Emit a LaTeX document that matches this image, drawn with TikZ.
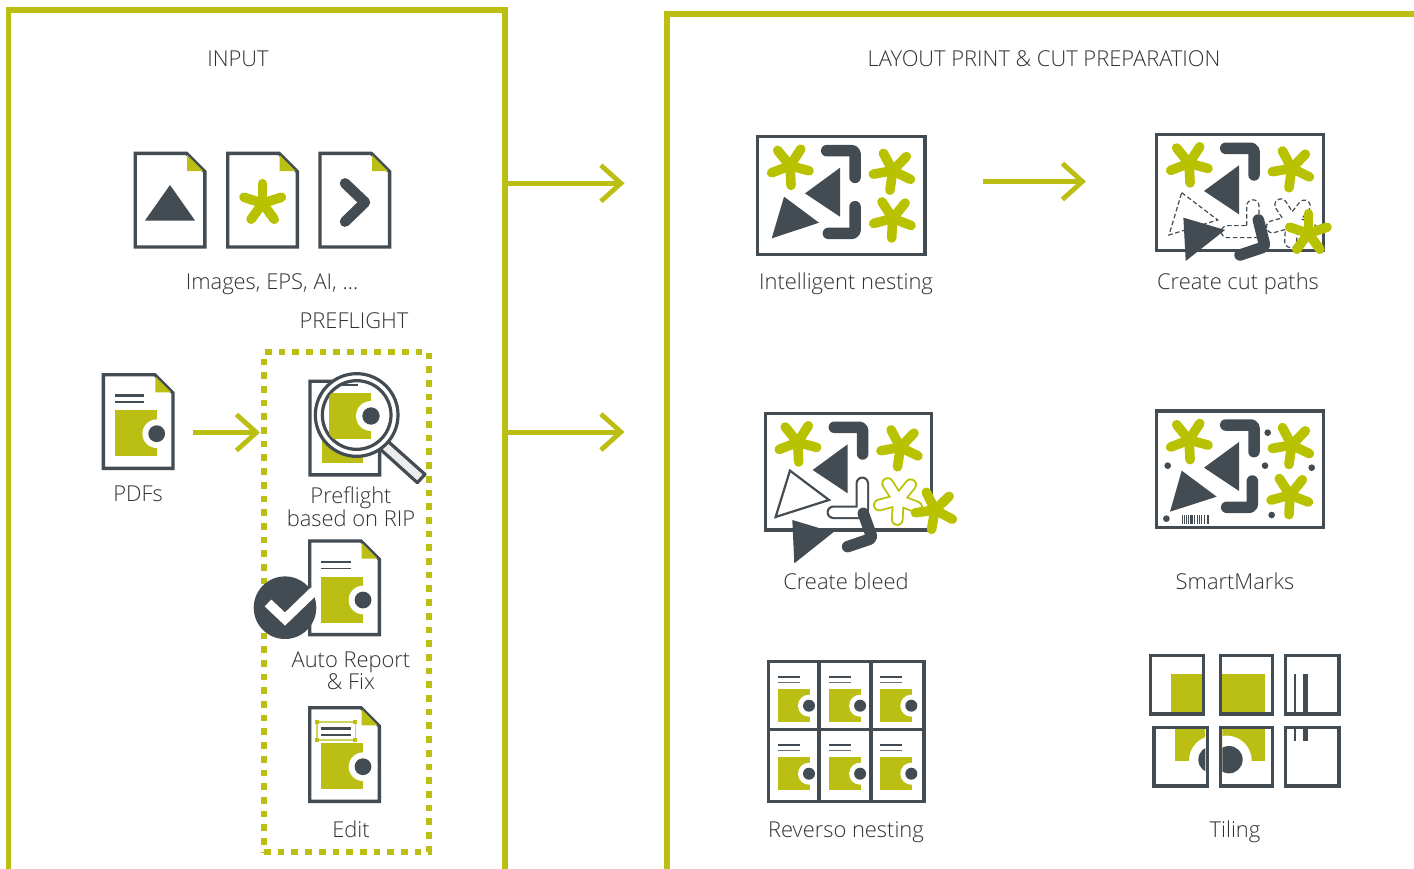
\documentclass[tikz,border=0pt]{standalone}
\usepackage{fontspec}
\setmainfont{Open Sans}[UprightFont={* Light}]
\usetikzlibrary{arrows.meta}
\definecolor{lime}{HTML}{BBBF14}
\definecolor{limeb}{HTML}{B9C200}
\definecolor{dark}{HTML}{434B53}
\definecolor{txt}{HTML}{2F3235}
\tikzset{
  panel/.style={draw=lime,line width=5.4pt,inner sep=0pt,outer sep=0pt,anchor=north west},
  flow/.style={draw=lime,line width=5pt,-{Straight Barb[length=20pt,width=36pt,line width=4.8pt]}},
  lbl/.style={anchor=base,text=txt,inner sep=0pt,align=center,yshift=-1pt,font=\fontsize{21.9}{21.7}\selectfont},
  pageline/.style={draw=dark,line width=3.4pt,fill=white,line join=miter},
  chev/.style={draw=dark,line width=11.5pt,line cap=round,line join=round,rounded corners=3pt},
  zoomcoords/.style={scale=0.33333},
}
% star in zoom coordinates: x,y,rotation
\newcommand{\astar}[3]{\foreach \a in {90,162,234,306,18}{\draw[limeb,line width=9.6pt,line cap=round] (#1,#2) -- ++(\a+#3:59);}}
\newcommand{\docbase}[2]{\begin{scope}[shift={(#1,#2)}]
  \draw[pageline] (1.7,1.7) -- (53,1.7) -- (71.3,20) -- (71.3,95.3) -- (1.7,95.3) -- cycle;
  \fill[lime] (53.7,3.4) -- (69.6,19.3) -- (53.7,19.3) -- cycle;
\end{scope}}
\newcommand{\doccontent}[2]{\begin{scope}[shift={(#1,#2)}]
  \draw[dark,line width=2.7pt] (13.3,22.7) -- (42.7,22.7);
  \draw[dark,line width=1.6pt] (13.3,29) -- (42.7,29);
  \fill[lime] (13.3,37.3) rectangle (55,83.3);
  \fill[white] (55,60.7) circle (14.3);
  \fill[dark] (55,60.7) circle (8.4);
\end{scope}}
% nesting base in zoom coordinates with origin at rect outer corner
\newcommand{\nestbase}[4]{% x y w h (px) outer
  \draw[dark,line width=3.4pt,fill=white] (#1+1.0,#2+1.0) rectangle (#1+#3-1.0,#2+#4-1.0);}
\newcommand{\nesttop}{%
  \astar{100}{90}{-3}
  \astar{408}{105}{8}
  \draw[chev] (210,45) -- (295,45) -- (295,125);
  \fill[dark] (250,96) -- (145,173) -- (250,243) -- cycle;}
\begin{document}
\begin{tikzpicture}[x=1pt,y=1pt,yscale=-1]
\useasboundingbox (0,0) rectangle (1414,868);
\clip (0,0) rectangle (1414,868);
\fill[white] (0,0) rectangle (1414,868);

% panels
\node[panel,minimum width=496.5pt,minimum height=900pt] (inputpanel) at (8.5,10) {};
\node[panel,minimum width=800pt,minimum height=900pt] (layoutpanel) at (667,14) {};
\node[lbl] (inputtitle) at (238,65.5) {INPUT};
\node[lbl] (layouttitle) at (1044,65.5) {LAYOUT PRINT \& CUT PREPARATION};

% top arrows
\coordinate (a1s) at (507.7,183.3);
\coordinate (a1e) at (624.5,183.3);
\coordinate (a2s) at (507.7,432);
\coordinate (a2e) at (624.5,432);
\draw[flow] (a1s) -- (a1e);
\draw[flow] (a2s) -- (a2e);

% input files
\docbase{133.5}{151.7}
\fill[dark] (145,220.5) -- (170,185) -- (195,220.5) -- cycle;
\docbase{226}{151.7}
\begin{scope}[shift={(90,140)},zoomcoords]
  \astar{518}{190}{180}
  \draw[dark,line width=10.5pt,line cap=round,line join=round] (765,130) -- (825,187) -- (765,245);
\end{scope}
\docbase{318.3}{151.7}
\begin{scope}[shift={(90,140)},zoomcoords]
  \draw[dark,line width=10.5pt,line cap=round,line join=round] (765,130) -- (825,187) -- (765,245);
\end{scope}
\node[lbl] (imageslbl) at (272,288.5) {Images, EPS, AI, ...};
\node[lbl] (prefltitle) at (354,327.5) {PREFLIGHT};

% pdf
\docbase{101.7}{373}
\doccontent{101.7}{373}
\node[lbl] (pdflbl) at (138,500.5) {PDFs};
\coordinate (pdfarrows) at (193,432.5);
\node[draw=lime,line width=6pt,dash pattern=on 6.7pt off 7pt,inner sep=0pt,outer sep=0pt,anchor=north west,minimum width=165pt,minimum height=499.5pt] (preflightbox) at (264,352.3) {};
\draw[flow] (pdfarrows) -- ([xshift=-4pt]pdfarrows -| preflightbox.west);

% preflight doc with magnifier
\docbase{308.3}{379.5}
\doccontent{308.3}{379.5}
\begin{scope}[shift={(90,140)},zoomcoords]
  \draw[dark,line width=3.2pt,fill=gray!15!white,line join=round] (895,905) -- (1005,1003) -- (982,1028) -- (868,925) -- cycle;
  \fill[white] (800,825) circle (125);
  \draw[dark,line width=3.2pt] (800,825) circle (124);
  \draw[dark,line width=3.2pt] (800,825) circle (103);
  \begin{scope}
    \clip (800,825) circle (100);
    \draw[dark,line width=1.6pt] (748,735) -- (805,735);
    \fill[lime] (718,760) rectangle (843,897);
    \fill[white] (843,828) circle (45);
    \fill[dark] (843,828) circle (26);
  \end{scope}
\end{scope}
\node[lbl] (prefl1) at (351,525) {Preflight\\based on RIP};

% auto report
\docbase{308}{539.3}
\doccontent{308}{539.3}
\fill[dark] (285,607.7) circle (31.3);
\draw[white,line width=9.5pt] (268,603) -- (285,619) -- (314,591);
\node[lbl] (autolbl) at (351,688.5) {Auto Report\\\& Fix};

% edit
\docbase{308}{706}
\doccontent{308}{706}
\begin{scope}[shift={(250,520)},zoomcoords]
  \draw[lime!70!white,line width=1.4pt] (201,606) rectangle (316,660);
  \foreach \p in {(201,606),(316,606),(201,660),(316,660)}{\fill[lime] \p ++(-6,-6) rectangle ++(12,12);}
\end{scope}
\node[lbl] (editlbl) at (351,836.5) {Edit};

% Intelligent nesting
\nestbase{756.7}{135.7}{169.3}{120}
\begin{scope}[shift={(756.7,135.7)},zoomcoords]
  \nesttop
  \astar{408}{248}{3}
  \draw[chev] (215,293) -- (295,293) -- (295,213);
  \fill[dark] (82,183) -- (187,261) -- (45,308) -- cycle;
\end{scope}
\node[lbl] (nestlbl) at (846,288) {Intelligent nesting};
\coordinate (a3s) at (983,181.5);
\coordinate (a3e) at (1086,181.5);
\draw[flow] (a3s) -- (a3e);

% Create cut paths
\nestbase{1155.7}{133.3}{168.6}{118.4}
\begin{scope}[shift={(1155.7,133.3)},zoomcoords]
  \nesttop
  \begin{scope}[dark,line width=1.2pt,dash pattern=on 4.5pt off 2.6pt]
    \draw (78,178) -- (186,260) -- (40,305) -- cycle;
    \draw (273,277) -- (273,218) arc (180:360:18.5) -- (310,313) -- (215,313) arc (90:270:18) -- cycle;
    \foreach \a in {90,162,234,306,18}{
      \draw[shift={(408,265)},rotate=\a+3] (25,-18) -- (60,-18) arc (-90:90:18) -- (25,18);}
  \end{scope}
  \fill[dark] (83,253) -- (208,290) -- (90,383) -- cycle;
  \draw[chev] (308,260) -- (328,340) -- (253,365);
  \foreach \a in {90,162,234,306,18}{\draw[limeb,line width=9.6pt,line cap=round] (458,300) -- ++(\a+36:59);}
\end{scope}
\node[lbl] (cutlbl) at (1238,288) {Create cut paths};

% Create bleed
\nestbase{764.3}{412.3}{168}{118.7}
\begin{scope}[shift={(764.3,412.3)},zoomcoords]
  \nesttop
  \draw[dark,line width=2.2pt,line join=miter] (77,175) -- (194,263) -- (34,314) -- cycle;
  \draw[dark,line width=13.5pt,line cap=round,line join=round,rounded corners=3pt] (207,300) -- (294,300) -- (294,213);
  \draw[white,line width=9.4pt,line cap=round,line join=round,rounded corners=3pt] (207,300) -- (294,300) -- (294,213);
  \foreach \a in {90,162,234,306,18}{\draw[limeb,line width=12.5pt,line cap=round] (402,263) -- ++(\a+3:59);}
  \foreach \a in {90,162,234,306,18}{\draw[white,line width=8.9pt,line cap=round] (402,263) -- ++(\a+3:59);}
  \fill[dark] (84,323) -- (207,360) -- (90,453) -- cycle;
  \draw[chev] (297,303) -- (324,378) -- (250,403);
  \astar{512}{293}{10}
\end{scope}
\node[lbl] (bleedlbl) at (846,588) {Create bleed};

% SmartMarks
\nestbase{1155.7}{410}{168.6}{118.3}
\begin{scope}[shift={(1155.7,410)},zoomcoords]
  \nesttop
  \astar{403}{255}{3}
  \draw[chev] (213,292) -- (290,292) -- (290,213);
  \fill[dark] (78,182) -- (183,260) -- (43,305) -- cycle;
  \foreach \p in {(336,68),(36,167),(328,167),(468,173),(348,315),(32,326)}{\fill[dark] \p circle (10);}
  \foreach \x/\w in {80/1.1,86/1.1,91/0.7,98/1.5,104/0.9,109/1.1,116/1.5,125/0.8,131/1.5,138/0.8,146/1.5,155/0.8,159/1}{
    \draw[dark,line width=\w pt] (\x,315) -- (\x,342);}
\end{scope}
\node[lbl] (smartlbl) at (1235,588) {SmartMarks};

% Reverso nesting
\foreach \cx/\lw in {0/0,51.1/0,102.3/0}{\foreach \cy in {0,68}{
  \begin{scope}[shift={(778+\cx,0+\cy)}]
    \draw[dark,line width=2.2pt] (0,677.3) -- (22,677.3);
    \draw[dark!80!white,line width=1.5pt] (0,682.3) -- (22,682.3);
    \fill[lime] (0,689.3) rectangle (32,721.7);
    \fill[white] (31,705.7) circle (11);
    \fill[dark] (31,705.7) circle (6);
  \end{scope}}}
\draw[dark,line width=3.4pt] (768.3,661.7) rectangle (924,801.3);
\draw[dark,line width=3.4pt] (819,660) -- (819,803);
\draw[dark,line width=3.4pt] (871,660) -- (871,803);
\draw[dark,line width=3.4pt] (767,729.5) -- (925,729.5);
\node[lbl] (revlbl) at (846,836.5) {Reverso nesting};

% Tiling
\begin{scope}[shift={(1140,645)},zoomcoords]
  \fill[lime] (93,88) rectangle (185,202);
  \draw[dark,line width=3.2pt] (32,32) rectangle (190,207);
  \fill[lime] (247,88) rectangle (375,202);
  \draw[dark,line width=3.2pt] (241,32) rectangle (398,207);
  \fill[dark] (462,88) rectangle (468,202);
  \fill[dark] (489,88) rectangle (503,202);
  \draw[dark,line width=3.2pt] (436,32) rectangle (597,207);
  \begin{scope}
    \clip (46,252) rectangle (196,420);
    \fill[lime] (105,252) rectangle (196,347);
    \fill[white] (222,347) circle (75);
    \fill[dark] (215,344) circle (40);
  \end{scope}
  \draw[dark,line width=3.2pt] (42,247) rectangle (202,423);
  \begin{scope}
    \clip (247,252) rectangle (394,420);
    \fill[lime] (247,252) rectangle (375,347);
    \fill[white] (260,347) circle (75);
    \fill[dark] (267,344) circle (41);
  \end{scope}
  \draw[dark,line width=3.2pt] (241,247) rectangle (398,423);
  \fill[dark] (462,252) rectangle (468,288);
  \fill[dark] (489,252) rectangle (503,288);
  \draw[dark,line width=3.2pt] (436,247) rectangle (597,423);
\end{scope}
\node[lbl] (tilelbl) at (1235,836.5) {Tiling};
\end{tikzpicture}
\end{document}
